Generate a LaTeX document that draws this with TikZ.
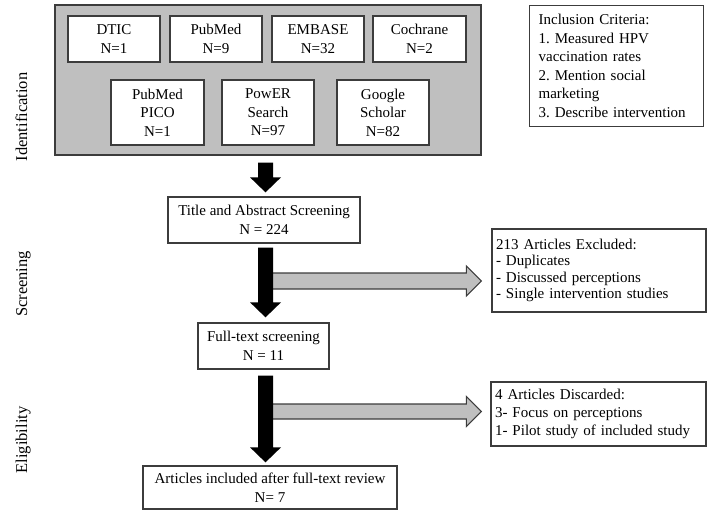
\documentclass[tikz,border=0pt]{standalone}
\usepackage{fontspec}
\setmainfont{Liberation Serif}
\usetikzlibrary{calc}
\frenchspacing
\definecolor{edge}{HTML}{3C3C3C}
\definecolor{panel}{HTML}{BFBFBF}
\newcommand\bodyfs{\fontsize{15}{18.5}\selectfont}

% thick black arrow pointing down, from #1 (top of shaft) to #2 (tip)
\newcommand\blockdown[2]{%
  \fill[flowarrow] let \p1=(#1), \p2=(#2) in
    (\x1-7.5pt,\y1) -- (\x1+7.5pt,\y1) -- (\x1+7.5pt,\y2+15pt) -- (\x1+15.5pt,\y2+15pt)
    -- (\x1,\y2) -- (\x1-15.5pt,\y2+15pt) -- (\x1-7.5pt,\y2+15pt) -- cycle;}
% grey outlined arrow pointing right, from #1 to #2, shaft half-height #3
\newcommand\blockright[3]{%
  \draw[sidearrow] let \p1=(#1), \p2=(#2) in
    (\x1,\y1+#3) -- (\x2-15pt,\y1+#3) -- (\x2-15pt,\y1+15pt) -- (\x2,\y1)
    -- (\x2-15pt,\y1-15pt) -- (\x2-15pt,\y1-#3) -- (\x1,\y1-#3) -- cycle;}

\begin{document}
\begin{tikzpicture}[x=1pt,y=-1pt,
  box/.style={draw=edge, line width=1.3pt, fill=white, align=center, inner sep=0pt, font=\bodyfs},
  src/.style={box, minimum width=92pt, minimum height=46pt},
  srctall/.style={box, minimum width=92pt, minimum height=65pt},
  listbox/.style={draw=edge, line width=1.3pt, fill=white, align=left, inner ysep=0pt, font=\bodyfs},
  phase/.style={rotate=90, anchor=base, font=\fontsize{16.5}{19}\selectfont},
  flowarrow/.style={fill=black},
  sidearrow/.style={fill=panel, draw=edge, line width=1.2pt, line join=miter},
]
\useasboundingbox (0,0) rectangle (708,510);

% phase labels
\node[phase] (idlab) at (27,117) {Identification};
\node[phase] (scrlab) at (27,284) {Screening};
\node[phase] (elilab) at (27,440) {Eligibility};

% database panel
\node[draw=edge, line width=1.3pt, fill=panel, minimum width=426pt, minimum height=150pt, inner sep=0pt]
  (sources) at (268,80) {};
\node[src] (dtic) at (114,39) {DTIC\\N=1};
\node[src] (pubmed) at (216,39) {PubMed\\N=9};
\node[src] (embase) at (318,39) {EMBASE\\N=32};
\node[src, minimum width=93pt] (cochrane) at (419.5,39) {Cochrane\\N=2};
\node[srctall, minimum width=93pt] (pico) at (157.5,112.5) {PubMed\\PICO\\N=1};
\node[srctall] (power) at (268,112.5) {PowER\\Search\\N=97};
\node[srctall] (scholar) at (383,112.5) {Google\\Scholar\\N=82};

% inclusion criteria
\node[listbox, anchor=north west, text width=156pt, inner xsep=9pt, minimum height=121pt]
  (criteria) at (529,5)
  {Inclusion Criteria:\\1. Measured HPV\\vaccination rates\\2. Mention social\\marketing\\3. Describe intervention};

% flow boxes
\node[box, minimum width=192pt, minimum height=46pt] (title) at (264,220)
  {Title and Abstract Screening\\N = 224};
\node[box, minimum width=131pt, minimum height=46pt] (fulltext) at (263.5,346)
  {Full-text screening\\N = 11};
\node[box, minimum width=254pt, minimum height=43pt] (included) at (270,487.5)
  {Articles included after full-text review\\N= 7};

% exclusion boxes
\node[listbox, text width=206pt, inner xsep=4pt, minimum height=83pt, font=\fontsize{15}{16.5}\selectfont]
  (excluded) at (599,270.5)
  {213 Articles Excluded:\\- Duplicates\\- Discussed perceptions\\- Single intervention studies};
\node[listbox, text width=207pt, inner xsep=4pt, minimum height=64pt, font=\fontsize{15}{18}\selectfont]
  (discarded) at (598.5,414)
  {4 Articles Discarded:\\3- Focus on perceptions\\1- Pilot study of included study};

% connectors
\coordinate (spine) at (265.5,0);
\coordinate (fork1) at (265.5,281);
\coordinate (fork2) at (265.5,411.5);
\coordinate (tip1) at ($(excluded.west |- fork1)+(-10,0)$);
\coordinate (tip2) at ($(discarded.west |- fork2)+(-9,0)$);

\blockright{fork1}{tip1}{8pt}
\blockright{fork2}{tip2}{7.5pt}

\coordinate (a1s) at ($(sources.south -| spine)+(0,7)$);
\coordinate (a1e) at ($(title.north -| spine)+(0,-4)$);
\coordinate (a2s) at ($(title.south -| spine)+(0,4)$);
\coordinate (a2e) at ($(fulltext.north -| spine)+(0,-5)$);
\coordinate (a3s) at ($(fulltext.south -| spine)+(0,6)$);
\coordinate (a3e) at ($(included.north -| spine)+(0,-3)$);
\blockdown{a1s}{a1e}
\blockdown{a2s}{a2e}
\blockdown{a3s}{a3e}
\end{tikzpicture}
\end{document}
